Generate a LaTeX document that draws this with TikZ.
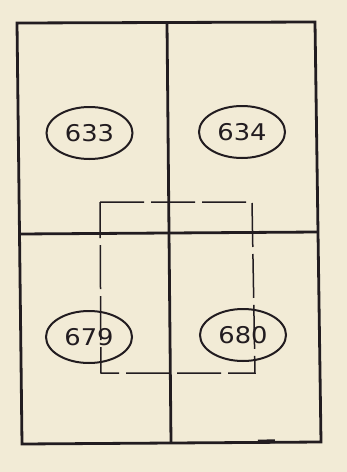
\documentclass[tikz,border=0pt]{standalone}
\usepackage{fontspec}
\setmainfont{DejaVu Sans}
\newfontfamily\labelfont[FakeStretch=1.12]{DejaVu Sans}
\usetikzlibrary{shapes.geometric}
\definecolor{paper}{RGB}{242,235,214}
\definecolor{ink}{RGB}{34,28,32}
\tikzset{
  frame/.style={draw=ink, line width=2.8pt, line join=miter},
  sheetlabel/.style={ellipse, draw=ink, line width=2pt, minimum width=86pt, minimum height=52pt, inner sep=0pt, text=ink, font=\labelfont\fontsize{23}{23}\selectfont},
  areabox/.style={draw=ink, line width=1.5pt, dash pattern=on 44pt off 7pt}
}
\begin{document}
\begin{tikzpicture}[x=1pt,y=-1pt]
\fill[paper] (0,0) rectangle (347,472);
\useasboundingbox (0,0) rectangle (347,472);
% frame corners
\coordinate (tl) at (17,23);
\coordinate (tr) at (315,22);
\coordinate (br) at (321,442);
\coordinate (bl) at (22,444);
\coordinate (vt) at (167,22.5);
\coordinate (vb) at (171,443);
\coordinate (hl) at (19,234);
\coordinate (hr) at (318,232);
\draw[frame] (tl) -- (tr) -- (br) -- (bl) -- cycle;
\draw[frame] (vt) -- (vb);
\draw[frame] (hl) -- (hr);
% dashed area
\coordinate (d1) at (100,202);
\coordinate (d2) at (252,202);
\coordinate (d3) at (255,373);
\coordinate (d4) at (101,373);
\draw[areabox] (d1) -- (d2) -- (d3) -- (d4) -- cycle;
% sheet labels
\node[sheetlabel] (s633) at (89.5,133) {633};
\node[sheetlabel] (s634) at (242,132) {634};
\node[sheetlabel] (s679) at (89,337) {679};
\node[sheetlabel] (s680) at (243,335) {680};
% small thick mark on bottom edge
\coordinate (m1) at (258,441.5);
\coordinate (m2) at (275,441.3);
\draw[ink, line width=3.8pt] (m1) -- (m2);
\end{tikzpicture}
\end{document}
